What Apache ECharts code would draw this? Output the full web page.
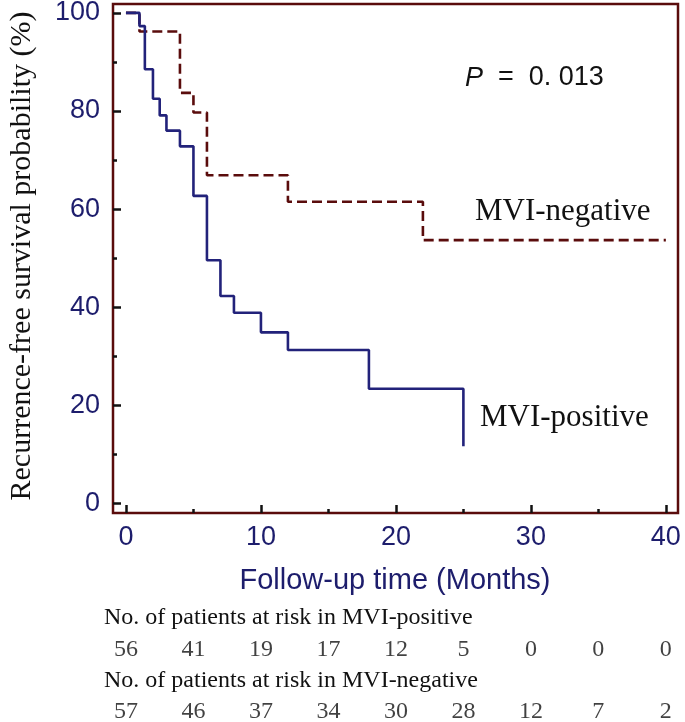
<!DOCTYPE html>
<html>
<head>
<meta charset="utf-8">
<script src="https://cdn.jsdelivr.net/npm/echarts@6/dist/echarts.min.js"></script>
<style>
  html, body { margin: 0; padding: 0; background: #fff; }
  #main { width: 685px; height: 722px; }
</style>
</head>
<body>
<div id="main"></div>
<script>
// Kaplan-Meier steps (months, survival %)
var posTime = [0, 1, 1.4, 2, 2.5, 3, 4, 5, 6, 7, 8, 10, 12, 18, 25];
var posSurv = [100, 97.3, 88.5, 82.5, 79.1, 76.0, 72.8, 62.7, 49.6, 42.3, 38.9, 34.9, 31.3, 23.4, 11.7];
var negTime = [0, 1, 4, 5, 6, 12, 22, 40];
var negSurv = [100, 96.2, 83.7, 79.7, 66.9, 61.5, 53.7, 53.7];

// numbers at risk
var riskTimes = [0, 5, 10, 15, 20, 25, 30, 35, 40];
var riskPos = [56, 41, 19, 17, 12, 5, 0, 0, 0];
var riskNeg = [57, 46, 37, 34, 30, 28, 12, 7, 2];
var riskRows = ['hdrPos', 'pos', 'hdrNeg', 'neg'];

var xMajor = [0, 10, 20, 30, 40];
var xMinor = [5, 15, 25, 35];
var yMajor = [0, 20, 40, 60, 80, 100];
var yMinor = [10, 30, 50, 70, 90];

var navy = '#1d1d6c';
var frame = '#5a0c0c';
var sans = 'Liberation Sans';
var serif = 'Liberation Serif';

function zip(a, b) {
    return a.map(function (v, i) { return [v, b[i]]; });
}
function riskData(vals, row) {
    return riskTimes.map(function (t, i) { return [t, row, vals[i]]; });
}
function tickAxis(dim, ticks, len, labels) {
    var ax = {
        type: 'value', gridIndex: 0,
        splitLine: { show: false },
        axisLine: { show: false, onZero: false },
        axisTick: { show: true, inside: true, length: len, customValues: ticks, lineStyle: { color: '#111', width: 2.5 } },
        axisLabel: labels
            ? { customValues: ticks, color: navy, fontFamily: sans, fontSize: 27, margin: dim === 'x' ? 11 : 13 }
            : { show: false }
    };
    if (dim === 'x') { ax.min = -0.96; ax.max = 40.9; ax.position = 'bottom'; }
    else { ax.min = -1.9; ax.max = 101.8; ax.position = 'left'; }
    return ax;
}

var chart = echarts.init(document.getElementById('main'));

var option = {
    animation: false,
    backgroundColor: '#fff',
    grid: [
        { left: 113, right: 7, top: 4, bottom: 209, show: true, borderColor: frame, borderWidth: 2.5, outerBoundsMode: 'none' },
        { left: 113, right: 7, top: 603, height: 124, outerBoundsMode: 'none' }
    ],
    xAxis: [
        tickAxis('x', xMajor, 8, true),
        tickAxis('x', xMinor, 4, false),
        { type: 'value', gridIndex: 1, min: -0.96, max: 40.9, show: false }
    ],
    yAxis: [
        tickAxis('y', yMajor, 8, true),
        tickAxis('y', yMinor, 4, false),
        { type: 'category', gridIndex: 1, data: riskRows, inverse: true, show: false }
    ],
    series: [
        {
            name: 'MVI-negative', type: 'line', step: 'end', xAxisIndex: 0, yAxisIndex: 0,
            data: zip(negTime, negSurv), symbol: 'none',
            lineStyle: { color: frame, width: 2.6, type: [10, 5] }
        },
        {
            name: 'MVI-positive', type: 'line', step: 'end', xAxisIndex: 0, yAxisIndex: 0,
            data: zip(posTime, posSurv), symbol: 'none',
            lineStyle: { color: '#22227a', width: 2.6 }
        },
        {
            type: 'scatter', xAxisIndex: 2, yAxisIndex: 2, symbolSize: 0,
            data: riskData(riskPos, 'pos'),
            label: { show: true, position: 'inside', formatter: function (p) { return p.value[2]; }, color: '#111', fontFamily: serif, fontSize: 24 }
        },
        {
            type: 'scatter', xAxisIndex: 2, yAxisIndex: 2, symbolSize: 0,
            data: riskData(riskNeg, 'neg'),
            label: { show: true, position: 'inside', formatter: function (p) { return p.value[2]; }, color: '#111', fontFamily: serif, fontSize: 24 }
        }
    ],
    graphic: [
        {
            type: 'text', x: 22, y: 256, rotation: Math.PI / 2,
            style: { text: 'Recurrence-free survival probability (%)', fill: '#111', font: '30px "Liberation Serif"', align: 'center', verticalAlign: 'middle' }
        },
        {
            type: 'text', x: 395, y: 581,
            style: { text: 'Follow-up time (Months)', fill: navy, font: '29px "Liberation Sans"', align: 'center', verticalAlign: 'middle' }
        },
        {
            type: 'text', x: 465, y: 78,
            style: {
                text: '{i|P}  =  0. 013', fill: '#111', font: '27px "Liberation Sans"', verticalAlign: 'middle',
                rich: { i: { fontStyle: 'italic', fontSize: 27, fontFamily: sans, fill: '#111' } }
            }
        },
        {
            type: 'text', x: 475, y: 212,
            style: { text: 'MVI-negative', fill: '#111', font: '31px "Liberation Serif"', verticalAlign: 'middle' }
        },
        {
            type: 'text', x: 480, y: 418,
            style: { text: 'MVI-positive', fill: '#111', font: '31px "Liberation Serif"', verticalAlign: 'middle' }
        },
        {
            type: 'text', x: 104, y: 618,
            style: { text: 'No. of patients at risk in MVI-positive', fill: '#111', font: '24px "Liberation Serif"', verticalAlign: 'middle' }
        },
        {
            type: 'text', x: 104, y: 681,
            style: { text: 'No. of patients at risk in MVI-negative', fill: '#111', font: '24px "Liberation Serif"', verticalAlign: 'middle' }
        }
    ]
};

chart.setOption(option);
</script>
</body>
</html>
